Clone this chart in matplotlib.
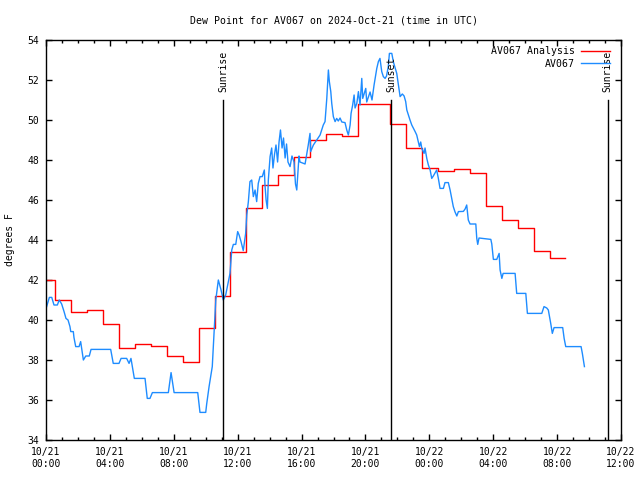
import matplotlib
matplotlib.use("Agg")
import matplotlib.pyplot as plt
import matplotlib.dates as mdates
import numpy as np
import pandas as pd

plt.rcParams['font.family'] = ['DejaVu Sans Mono', 'DejaVu Sans']

# start of the plot (UTC)
t0 = pd.Timestamp("2024-10-21 00:00")
t_end = pd.Timestamp("2024-10-22 12:00")

# hourly analysis values (hours after t0)
red_hours = list(range(33))
red_vals = [42.0, 41.0, 40.4, 40.5, 39.8, 38.6, 38.8, 38.7, 38.2, 37.9,
            39.6, 41.2, 43.4, 45.6, 46.75, 47.25, 48.15, 49.0, 49.3, 49.2,
            50.8, 50.8, 49.8, 48.6, 47.6, 47.45, 47.55, 47.35, 45.7, 45.0,
            44.6, 43.45, 43.1]

# station observations (hours after t0, degrees F)
blue_hours = [0.04, 0.21, 0.36, 0.50, 0.71, 0.83, 0.98, 1.13, 1.25, 1.38,
              1.50, 1.55, 1.71, 1.75, 1.86, 2.07, 2.17, 2.34, 2.49, 2.71,
              2.82, 4.05, 4.21, 4.57, 4.70, 5.05, 5.20, 5.32, 5.53, 6.20,
              6.34, 6.51, 6.66, 7.66, 7.83, 8.02, 9.50, 9.64, 10.00, 10.06,
              10.21, 10.41, 10.52, 10.63, 10.79, 10.96, 11.10, 11.25, 11.42, 11.52,
              11.63, 11.73, 11.88, 12.00, 12.09, 12.21, 12.35, 12.50, 12.57, 12.67,
              12.77, 12.88, 12.98, 13.09, 13.19, 13.29, 13.40, 13.54, 13.67, 13.71,
              13.78, 13.86, 13.92, 14.03, 14.13, 14.21, 14.31, 14.40, 14.50, 14.59,
              14.68, 14.78, 14.87, 14.97, 15.06, 15.15, 15.28, 15.40, 15.53, 15.62,
              15.70, 15.78, 15.84, 15.90, 16.22, 16.42, 16.53, 16.57, 16.74, 16.95,
              17.16, 17.36, 17.47, 17.58, 17.68, 17.74, 17.83, 17.89, 17.99, 18.10,
              18.20, 18.30, 18.41, 18.52, 18.72, 18.83, 18.93, 19.04, 19.10, 19.20,
              19.29, 19.35, 19.46, 19.56, 19.66, 19.77, 19.83, 20.02, 20.08, 20.29,
              20.41, 20.54, 20.71, 20.81, 20.91, 21.02, 21.12, 21.23, 21.32, 21.43,
              21.50, 21.65, 21.75, 21.96, 22.10, 22.17, 22.31, 22.42, 22.52, 22.59,
              22.69, 22.79, 22.90, 23.11, 23.21, 23.31, 23.38, 23.46, 23.53, 23.67,
              23.73, 23.84, 23.94, 24.05, 24.15, 24.25, 24.46, 24.56, 24.67, 24.88,
              24.98, 25.19, 25.30, 25.40, 25.50, 25.61, 25.72, 25.82, 26.13, 26.24,
              26.34, 26.44, 26.55, 26.91, 26.97, 27.03, 27.11, 27.85, 27.91, 28.01,
              28.22, 28.37, 28.43, 28.54, 28.62, 29.37, 29.47, 30.04, 30.14, 31.04,
              31.18, 31.35, 31.45, 31.60, 31.70, 31.81, 32.35, 32.44, 32.54, 33.50,
              33.58, 33.71]
blue_vals = [40.67, 41.13, 41.13, 40.75, 40.75, 41.0, 40.8, 40.42, 40.08, 40.0,
             39.67, 39.42, 39.42, 39.13, 38.67, 38.67, 38.92, 38.0, 38.2, 38.2,
             38.53, 38.53, 37.83, 37.83, 38.08, 38.08, 37.83, 38.08, 37.08, 37.08,
             36.08, 36.08, 36.37, 36.37, 37.37, 36.37, 36.37, 35.38, 35.38, 35.8,
             36.67, 37.67, 39.33, 41.0, 42.0, 41.5, 41.0, 41.25, 41.92, 42.33,
             43.5, 43.78, 43.78, 44.42, 44.25, 43.92, 43.47, 44.33, 45.25, 45.92,
             46.92, 47.0, 46.17, 46.5, 45.92, 46.83, 47.17, 47.17, 47.5, 46.75,
             46.0, 45.58, 47.0, 48.17, 48.6, 47.6, 48.3, 48.75, 47.9, 48.9,
             49.5, 48.6, 49.1, 48.1, 48.8, 47.9, 47.67, 48.2, 47.9, 46.8,
             46.5, 47.5, 48.2, 47.9, 47.8, 48.75, 49.33, 48.42, 48.75, 49.0,
             49.25, 49.75, 49.92, 51.08, 52.5, 51.92, 51.42, 50.83, 50.17, 49.92,
             50.08, 49.95, 50.1, 49.9, 49.87, 49.5, 49.25, 49.75, 50.33, 50.75,
             51.25, 50.6, 50.83, 51.42, 50.75, 52.08, 51.08, 51.58, 50.9, 51.4,
             51.0, 51.75, 52.58, 52.92, 53.08, 52.42, 52.17, 52.08, 52.2, 52.67,
             53.33, 53.33, 52.9, 52.33, 51.58, 51.17, 51.3, 51.2, 50.92, 50.5,
             50.25, 50.0, 49.75, 49.42, 49.25, 48.92, 48.67, 48.9, 48.58, 48.33,
             48.6, 48.08, 47.75, 47.5, 47.08, 47.2, 47.5, 47.1, 46.58, 46.58,
             46.87, 46.87, 46.5, 46.08, 45.67, 45.4, 45.2, 45.42, 45.43, 45.55,
             45.75, 45.0, 44.8, 44.8, 44.08, 43.78, 44.1, 44.03, 43.8, 43.03,
             43.03, 43.33, 42.5, 42.08, 42.33, 42.33, 41.33, 41.33, 40.33, 40.33,
             40.67, 40.6, 40.5, 39.83, 39.33, 39.62, 39.62, 39.08, 38.67, 38.67,
             38.33, 37.67]

# sun events (hours after t0)
sun_hours = [11.08, 21.6, 35.17]
sun_labels = ["Sunrise", "Sunset", "Sunrise"]


def to_time(hours):
    return t0 + pd.to_timedelta(np.asarray(hours, dtype=float), unit="h")


fig = plt.figure(figsize=(6.4, 4.8), dpi=100)
ax = fig.add_axes([46 / 640, 40 / 480, 575 / 640, 400 / 480])

# analysis is hourly, each value held from ~h-0.45 to ~h+0.55
edges = [max(h - 0.45, 0) for h in red_hours] + [red_hours[-1] + 0.5]
ax.step(to_time(edges), red_vals + [red_vals[-1]], where="post",
        color="#ff0000", lw=1.0, label="AV067 Analysis")
ax.plot(to_time(blue_hours), blue_vals, color="#1e8cff", lw=1.0, label="AV067")

for h, lab in zip(sun_hours, sun_labels):
    t = to_time([h])[0]
    ax.plot([t, t], [34, 51.0], color="black", lw=1.0)
    ax.text(t, 51.4, lab, rotation=90, ha="center", va="bottom", fontsize=7)

ax.set_xlim(t0, t_end)
ax.set_ylim(34, 54)
ax.set_yticks(np.arange(34, 55, 2))
ax.xaxis.set_major_locator(mdates.HourLocator(byhour=range(0, 24, 4)))
ax.xaxis.set_minor_locator(mdates.HourLocator())
ax.xaxis.set_major_formatter(mdates.DateFormatter("%m/%d\n%H:%M"))
ax.tick_params(which="both", direction="in", top=True, right=True, labelsize=7, pad=5)
ax.tick_params(which="major", length=4, width=1)
ax.tick_params(which="minor", length=2, width=1)
ax.yaxis.set_minor_locator(matplotlib.ticker.NullLocator())
for sp in ax.spines.values():
    sp.set_linewidth(1.0)

ax.set_title("Dew Point for AV067 on 2024-Oct-21 (time in UTC)", fontsize=7.1, pad=12)
ax.set_ylabel("degrees F", fontsize=7, labelpad=9)

ax.legend(loc="upper right", bbox_to_anchor=(0.9843, 0.99), frameon=False,
          markerfirst=False, fontsize=7.1, handlelength=2.9, handletextpad=0.7,
          labelspacing=0.3, borderaxespad=0, borderpad=0.2)

fig.savefig("out.png", dpi=100)
